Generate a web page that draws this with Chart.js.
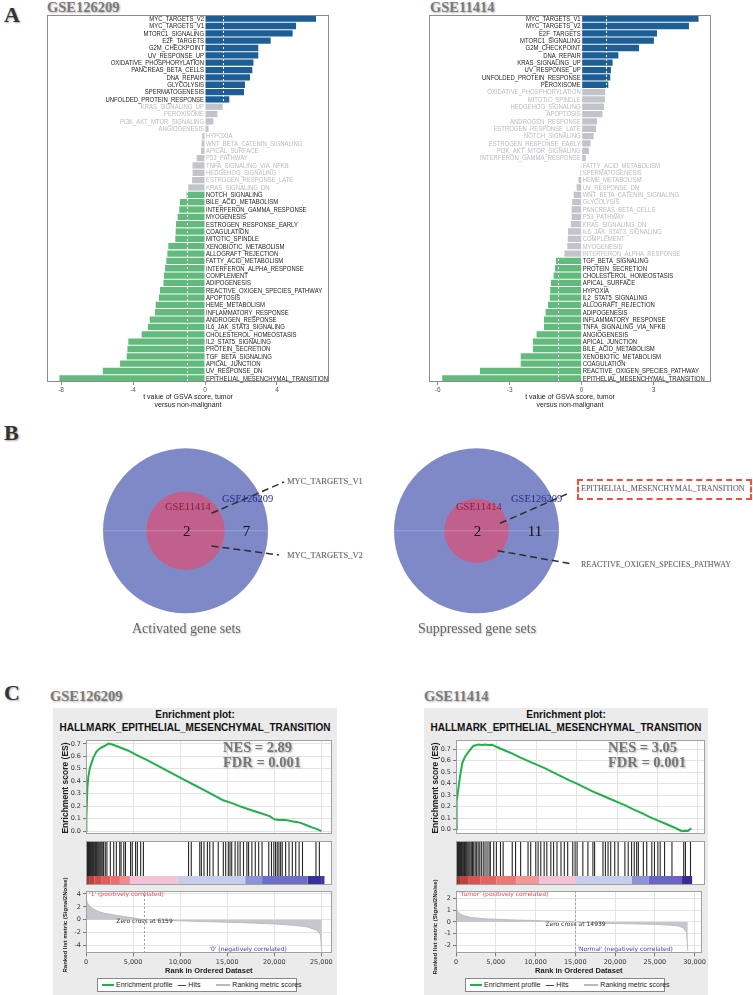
<!DOCTYPE html>
<html>
<head>
<meta charset="utf-8">
<title>GSVA and GSEA of hallmark gene sets</title>
<script src="https://cdn.jsdelivr.net/npm/chart.js@4.4.1/dist/chart.umd.min.js"></script>
<style>
  html, body { margin: 0; padding: 0; background: #fff; }
  #fig { position: relative; width: 753px; height: 995px; overflow: hidden; font-family: "Liberation Sans", Arial, sans-serif; }
  #fig canvas, .t { position: absolute; }
  .t { line-height: 1; white-space: nowrap; }
  .serif { font-family: "Liberation Serif", "DejaVu Serif", serif; }
  .letter { font-size: 22px; font-weight: bold; color: #333; text-shadow: 1px 1px 2px rgba(0,0,0,.35); }
  .gse { font-size: 14.5px; font-weight: bold; color: #7a7a7a; text-shadow: 1px 1px 2px rgba(0,0,0,.3); }
  .axt { font-size: 7px; color: #222; text-align: center; line-height: 7.6px; }
  .vset { font-size: 10.5px; }
  .vnum { font-size: 15px; color: #111; transform: translateX(-50%); }
  .vlab { font-size: 8.5px; color: #666; text-shadow: 0 0 1px rgba(0,0,0,.25); }
  .cap { font-size: 14px; color: #666; transform: translateX(-50%); text-shadow: 1px 1px 2px rgba(0,0,0,.25); }
  .gbox { position: absolute; background: #ebebeb; }
  .gt { font-size: 10px; font-weight: bold; color: #111; transform: translateX(-50%); }
  .nes { font-size: 14.5px; font-weight: bold; color: #777; text-shadow: 1px 1px 2px rgba(0,0,0,.3); }
  .rot { font-weight: bold; color: #222; transform: translate(-50%,-50%) rotate(-90deg); }
  .leg { position: absolute; background: #fff; border: 1px solid #888; height: 12px; font-size: 7px; color: #222; line-height: 12px; white-space: nowrap; }
  .leg i { display: inline-block; vertical-align: middle; width: 12px; height: 2px; margin: 0 2px 0 4px; }
  .ebox { position: absolute; border: 2px dashed #f0503c; }
</style>
</head>
<body>
<div id="fig">
  <!-- panel A -->
  <div class="t serif letter" style="left:4px;top:4px">A</div>
  <div class="t serif gse" style="left:47px;top:0px">GSE126209</div>
  <div class="t serif gse" style="left:430px;top:0px">GSE11414</div>
  <canvas id="barsLeft" width="300" height="385" style="left:40px;top:10px"></canvas>
  <canvas id="barsRight" width="300" height="385" style="left:420px;top:10px"></canvas>
  <div class="t axt" style="left:40px;top:393px;width:296px">t value of GSVA score, tumor<br>versus non-malignant</div>
  <div class="t axt" style="left:420px;top:393px;width:300px">t value of GSVA score, tumor<br>versus non-malignant</div>

  <!-- panel B -->
  <div class="t serif letter" style="left:4px;top:422px">B</div>
  <canvas id="vennActivated" width="285" height="190" style="left:95px;top:440px"></canvas>
  <canvas id="vennSuppressed" width="285" height="190" style="left:385px;top:440px"></canvas>
  <div class="t serif vset" id="vA2" style="left:165px;top:501.5px;color:#8a1c3c"></div>
  <div class="t serif vset" id="vA1" style="left:222px;top:494px;color:#2a2a8c"></div>
  <div class="t serif vnum" id="nA2" style="left:186.7px;top:524px"></div>
  <div class="t serif vnum" id="nA1" style="left:246.4px;top:524px"></div>
  <div class="t serif vlab" id="sA1" style="left:287px;top:476.5px"></div>
  <div class="t serif vlab" id="sA2" style="left:287px;top:550.8px"></div>
  <div class="t serif vset" id="vS2" style="left:456px;top:501.5px;color:#8a1c3c"></div>
  <div class="t serif vset" id="vS1" style="left:511px;top:494px;color:#2a2a8c"></div>
  <div class="t serif vnum" id="nS2" style="left:477.4px;top:524px"></div>
  <div class="t serif vnum" id="nS1" style="left:535px;top:524px"></div>
  <div class="ebox" style="left:577px;top:479px;width:171px;height:17px"></div>
  <div class="t serif vlab" id="sS1" style="left:581px;top:485.3px;font-size:8px"></div>
  <div class="t serif vlab" id="sS2" style="left:581px;top:560.7px;font-size:8px"></div>
  <div class="t serif cap" style="left:186.4px;top:622.3px">Activated gene sets</div>
  <div class="t serif cap" style="left:477px;top:622.3px">Suppressed gene sets</div>

  <!-- panel C -->
  <div class="t serif letter" style="left:4px;top:681.5px">C</div>
  <div class="t serif gse" style="left:50px;top:689px">GSE126209</div>
  <div class="t serif gse" style="left:424px;top:689px">GSE11414</div>

  <div class="gbox" style="left:53px;top:708px;width:284px;height:287px"></div>
  <div class="t gt" style="left:195px;top:710px">Enrichment plot:</div>
  <div class="t gt" style="left:195px;top:722.7px">HALLMARK_EPITHELIAL_MESENCHYMAL_TRANSITION</div>
  <canvas id="esLeft" width="284" height="106" style="left:53px;top:734px"></canvas>
  <canvas id="hitsLeft" width="246" height="44" style="left:86px;top:841px"></canvas>
  <canvas id="metricLeft" width="284" height="90" style="left:53px;top:885px"></canvas>
  <div class="t rot" style="left:65px;top:788px;font-size:8.5px">Enrichment score (ES)</div>
  <div class="t rot" style="left:65px;top:925px;font-size:6px">Ranked list metric (Signal2Noise)</div>
  <div class="t serif nes" style="left:223px;top:739.5px">NES = 2.89</div>
  <div class="t serif nes" style="left:223px;top:754.5px">FDR = 0.001</div>
  <div class="leg" style="left:97px;top:978px;width:198px"><i style="background:#1fb24a"></i>Enrichment profile <i style="background:#444;width:8px;height:1px"></i>Hits <i style="background:#b8b8c0;width:14px;height:2px;margin-left:14px"></i>Ranking metric scores</div>

  <div class="gbox" style="left:424px;top:708px;width:284px;height:287px"></div>
  <div class="t gt" style="left:566px;top:710px">Enrichment plot:</div>
  <div class="t gt" style="left:566px;top:722.7px">HALLMARK_EPITHELIAL_MESENCHYMAL_TRANSITION</div>
  <canvas id="esRight" width="284" height="106" style="left:424px;top:734px"></canvas>
  <canvas id="hitsRight" width="249" height="44" style="left:456px;top:841px"></canvas>
  <canvas id="metricRight" width="284" height="90" style="left:424px;top:885px"></canvas>
  <div class="t rot" style="left:435px;top:788px;font-size:8.5px">Enrichment score (ES)</div>
  <div class="t rot" style="left:435px;top:927px;font-size:6px">Ranked list metric (Signal2Noise)</div>
  <div class="t serif nes" style="left:608px;top:739.5px">NES = 3.05</div>
  <div class="t serif nes" style="left:608px;top:754.5px">FDR = 0.001</div>
  <div class="leg" style="left:465px;top:978px;width:198px"><i style="background:#1fb24a"></i>Enrichment profile <i style="background:#444;width:8px;height:1px"></i>Hits <i style="background:#b8b8c0;width:14px;height:2px;margin-left:14px"></i>Ranking metric scores</div>
</div>

<script>
// ---------- Panel A: t values of GSVA scores, tumor vs non-malignant ----------
const gse126209Sets = ['MYC_TARGETS_V2', 'MYC_TARGETS_V1', 'MTORC1_SIGNALING', 'E2F_TARGETS', 'G2M_CHECKPOINT',
  'UV_RESPONSE_UP', 'OXIDATIVE_PHOSPHORYLATION', 'PANCREAS_BETA_CELLS', 'DNA_REPAIR', 'GLYCOLYSIS',
  'SPERMATOGENESIS', 'UNFOLDED_PROTEIN_RESPONSE', 'KRAS_SIGNALING_UP', 'PEROXISOME', 'PI3K_AKT_MTOR_SIGNALING',
  'ANGIOGENESIS', 'HYPOXIA', 'WNT_BETA_CATENIN_SIGNALING', 'APICAL_SURFACE', 'P53_PATHWAY',
  'TNFA_SIGNALING_VIA_NFKB', 'HEDGEHOG_SIGNALING', 'ESTROGEN_RESPONSE_LATE', 'KRAS_SIGNALING_DN', 'NOTCH_SIGNALING',
  'BILE_ACID_METABOLISM', 'INTERFERON_GAMMA_RESPONSE', 'MYOGENESIS', 'ESTROGEN_RESPONSE_EARLY', 'COAGULATION',
  'MITOTIC_SPINDLE', 'XENOBIOTIC_METABOLISM', 'ALLOGRAFT_REJECTION', 'FATTY_ACID_METABOLISM', 'INTERFERON_ALPHA_RESPONSE',
  'COMPLEMENT', 'ADIPOGENESIS', 'REACTIVE_OXIGEN_SPECIES_PATHWAY', 'APOPTOSIS', 'HEME_METABOLISM',
  'INFLAMMATORY_RESPONSE', 'ANDROGEN_RESPONSE', 'IL6_JAK_STAT3_SIGNALING', 'CHOLESTEROL_HOMEOSTASIS', 'IL2_STAT5_SIGNALING',
  'PROTEIN_SECRETION', 'TGF_BETA_SIGNALING', 'APICAL_JUNCTION', 'UV_RESPONSE_DN', 'EPITHELIAL_MESENCHYMAL_TRANSITION'];
const gse126209T = [6.17, 5.06, 4.87, 3.65, 2.96, 2.96, 2.69, 2.63, 2.5, 2.22,
  2.17, 1.35, 0.98, 0.69, 0.46, 0.19, -0.15, -0.19, -0.22, -0.46,
  -0.69, -0.69, -0.72, -0.93, -1.02, -1.39, -1.43, -1.52, -1.61, -1.63,
  -1.65, -2.04, -2.09, -2.15, -2.22, -2.28, -2.31, -2.5, -2.56, -2.74,
  -2.78, -3.07, -3.17, -3.52, -4.26, -4.31, -4.35, -4.72, -5.68, -8.09];

const gse11414Sets = ['MYC_TARGETS_V1', 'MYC_TARGETS_V2', 'E2F_TARGETS', 'MTORC1_SIGNALING', 'G2M_CHECKPOINT',
  'DNA_REPAIR', 'KRAS_SIGNALING_UP', 'UV_RESPONSE_UP', 'UNFOLDED_PROTEIN_RESPONSE', 'PEROXISOME',
  'OXIDATIVE_PHOSPHORYLATION', 'MITOTIC_SPINDLE', 'HEDGEHOG_SIGNALING', 'APOPTOSIS', 'ANDROGEN_RESPONSE',
  'ESTROGEN_RESPONSE_LATE', 'NOTCH_SIGNALING', 'ESTROGEN_RESPONSE_EARLY', 'PI3K_AKT_MTOR_SIGNALING', 'INTERFERON_GAMMA_RESPONSE',
  'FATTY_ACID_METABOLISM', 'SPERMATOGENESIS', 'HEME_METABOLISM', 'UV_RESPONSE_DN', 'WNT_BETA_CATENIN_SIGNALING',
  'GLYCOLYSIS', 'PANCREAS_BETA_CELLS', 'P53_PATHWAY', 'KRAS_SIGNALING_DN', 'IL6_JAK_STAT3_SIGNALING',
  'COMPLEMENT', 'MYOGENESIS', 'INTERFERON_ALPHA_RESPONSE', 'TGF_BETA_SIGNALING', 'PROTEIN_SECRETION',
  'CHOLESTEROL_HOMEOSTASIS', 'APICAL_SURFACE', 'HYPOXIA', 'IL2_STAT5_SIGNALING', 'ALLOGRAFT_REJECTION',
  'ADIPOGENESIS', 'INFLAMMATORY_RESPONSE', 'TNFA_SIGNALING_VIA_NFKB', 'ANGIOGENESIS', 'APICAL_JUNCTION',
  'BILE_ACID_METABOLISM', 'XENOBIOTIC_METABOLISM', 'COAGULATION', 'REACTIVE_OXIGEN_SPECIES_PATHWAY', 'EPITHELIAL_MESENCHYMAL_TRANSITION'];
const gse11414T = [4.87, 4.47, 3.14, 3.01, 2.39, 1.53, 1.29, 1.22, 1.19, 1.11,
  0.98, 0.97, 0.93, 0.87, 0.64, 0.6, 0.5, 0.37, 0.3, 0.17,
  -0.03, -0.05, -0.13, -0.21, -0.33, -0.4, -0.42, -0.42, -0.45, -0.57,
  -0.58, -0.6, -0.72, -1.07, -1.11, -1.17, -1.28, -1.31, -1.33, -1.4,
  -1.5, -1.57, -1.57, -1.88, -2.03, -2.03, -2.54, -2.54, -4.24, -5.81];

const tTicks126209 = [-8, -4, 0, 4];
const tTicks11414 = [-6, -3, 0, 3];
const tCutoff = 1;

// ---------- Panel B: overlap of significant gene sets ----------
const vennSets = ['GSE126209', 'GSE11414'];
const activatedRadius = [1, 0.475];
const suppressedRadius = [1, 0.39];
const activatedCounts = [7, 2];
const suppressedCounts = [11, 2];
const activatedShared = ['MYC_TARGETS_V1', 'MYC_TARGETS_V2'];
const suppressedShared = ['EPITHELIAL_MESENCHYMAL_TRANSITION', 'REACTIVE_OXIGEN_SPECIES_PATHWAY'];

// ---------- Panel C: GSEA, HALLMARK_EPITHELIAL_MESENCHYMAL_TRANSITION ----------
const esRank126209 = [0, 40, 140, 250, 425, 600, 780, 1130, 1490, 2000, 2400, 2800, 3500, 4500, 5500, 6500, 7500, 8500,
  9500, 10500, 11500, 12500, 13500, 14500, 15500, 16500, 17500, 18500, 19500, 20000, 20500, 21000, 21500, 22000,
  22500, 23000, 23500, 24000, 24500, 25000];
const es126209 = [0, 0.1, 0.34, 0.44, 0.51, 0.55, 0.59, 0.64, 0.665, 0.685, 0.702, 0.695, 0.675, 0.645, 0.605, 0.57, 0.53, 0.49,
  0.45, 0.41, 0.37, 0.33, 0.29, 0.25, 0.225, 0.195, 0.17, 0.145, 0.12, 0.095, 0.09, 0.092, 0.085, 0.078,
  0.072, 0.06, 0.045, 0.03, 0.018, 0.0];
const hits126209 = [0, 30, 70, 110, 160, 210, 260, 320, 380, 440, 500, 560, 630, 700, 780, 860, 940, 1020, 1100, 1190,
  1280, 1370, 1470, 1570, 1680, 1790, 1870, 2045, 2220, 2580, 2940, 3220, 3580, 3720, 4010, 4190, 4730, 4910,
  5260, 5450, 5800, 6090, 10880, 11170, 12070, 12240, 12520, 12880, 13130, 13490, 14030, 14570, 14820, 15100,
  15280, 15460, 15820, 16110, 16350, 16710, 17070, 17250, 17600, 17960, 18320, 18680, 19390, 19680, 19930,
  20110, 20290, 20470, 20650, 20820, 21180, 21540, 21890, 22250, 22610, 22970, 24400, 24760];
const metricRank126209 = [0, 60, 200, 400, 700, 1000, 1500, 2000, 3000, 4000, 5000, 6159, 8000, 10000, 12000, 14000,
  16000, 18000, 20000, 22000, 23500, 24500, 24900, 25050];
const metric126209 = [3.4, 3.0, 2.5, 2.1, 1.75, 1.5, 1.2, 1.0, 0.75, 0.52, 0.3, 0, -0.05, -0.15, -0.25, -0.33,
  -0.42, -0.52, -0.65, -0.85, -1.1, -1.6, -2.3, -4.9];
const barEdges126209 = [0, 400, 900, 1600, 2600, 3600, 4660, 9730, 16890, 18680, 23510, 24940, 25300];
const barColors126209 = ['#a83232', '#bf3f3f', '#d04c4c', '#e05c5c', '#ea7070', '#f28c8c', '#f2c3d8', '#c9cdec',
  '#8c93d6', '#6e6ec6', '#3b2f9c', '#5a2c9e'];

const esRank11414 = [0, 40, 124, 290, 496, 786, 1117, 1530, 2150, 2770, 3200, 3600, 4000, 4500, 5000, 6000, 7000, 8000,
  9000, 10000, 11000, 12000, 13000, 14000, 15000, 16000, 17000, 18000, 19000, 20000, 21000, 22000, 23000,
  24000, 25000, 26000, 27000, 27600, 28000, 28400, 28800, 29000, 29200];
const es11414 = [0, 0.1, 0.247, 0.354, 0.46, 0.58, 0.633, 0.673, 0.727, 0.74, 0.735, 0.74, 0.735, 0.738, 0.72, 0.69, 0.66, 0.625,
  0.595, 0.565, 0.535, 0.5, 0.465, 0.43, 0.4, 0.365, 0.33, 0.3, 0.27, 0.24, 0.21, 0.175, 0.145,
  0.11, 0.08, 0.05, 0.02, 0.0, -0.015, -0.01, -0.012, 0.0, 0.01];
const hits11414 = [0, 40, 80, 130, 180, 230, 290, 350, 410, 480, 550, 620, 700, 780, 870, 960, 1060, 1160, 1270, 1380,
  1500, 1620, 1750, 1900, 2050, 2200, 2380, 2560, 2750, 2950, 3150, 3380, 3600, 3850, 4100, 4260, 4680, 5010,
  5520, 5850, 6980, 7390, 8020, 8940, 9270, 9900, 10190, 10520, 10940, 11270, 11770, 12110, 12530, 13030,
  13440, 13860, 14490, 14780, 15030, 15740, 16370, 16990, 17200, 18240, 18540, 18870, 19200, 19700, 20120,
  20960, 21370, 21790, 22120, 22420, 22630, 23250, 23670, 24300, 24630, 25050, 25340, 25880, 26800, 28260,
  28470, 29100];
const metricRank11414 = [0, 100, 300, 600, 1000, 2000, 3000, 4000, 6000, 8000, 10000, 12000, 14939, 17000, 20000,
  23000, 25000, 27000, 28000, 28600, 29000, 29150];
const metric11414 = [1.1, 0.95, 0.8, 0.65, 0.52, 0.38, 0.31, 0.26, 0.2, 0.16, 0.12, 0.08, 0, -0.07, -0.13,
  -0.17, -0.2, -0.27, -0.35, -0.5, -0.9, -2.45];
const barEdges11414 = [0, 600, 1500, 3000, 5000, 7500, 10310, 14900, 21790, 23880, 28050, 29300];
const barColors11414 = ['#a83232', '#c04040', '#d65454', '#e46464', '#ec7878', '#f29898', '#f2c3d8', '#c9cdec',
  '#8c93d6', '#6a64c2', '#3b2a98'];

const rankTicks126209 = [0, 5000, 10000, 15000, 20000, 25000];
const rankTicks11414 = [0, 5000, 10000, 15000, 20000, 25000, 30000];
const esTicks = [0, 0.1, 0.2, 0.3, 0.4, 0.5, 0.6, 0.7];
const metricTicks126209 = [-4, -2, 0, 2, 4];
const metricTicks11414 = [-2, -1, 0, 1, 2];

// ---------- helpers ----------
Chart.defaults.font.family = '"Liberation Sans", Arial, sans-serif';
const setTicks = list => scale => { scale.ticks = list.map(v => ({ value: v })); };
const baseOpts = { responsive: false, animation: false, events: [], devicePixelRatio: 1 };
const quiet = { legend: { display: false }, tooltip: { enabled: false } };
const pad = (t, r, b, l) => ({ autoPadding: false, padding: { top: t, right: r, bottom: b, left: l } });

// gene set names next to the zero line, dashed cut-off lines and the frame
const gsvaLabels = {
  id: 'gsvaLabels',
  afterDatasetsDraw(chart) {
    const { ctx, chartArea: a, scales: { x, y } } = chart;
    const vals = chart.data.datasets[0].data;
    const x0 = x.getPixelForValue(0);
    ctx.save();
    ctx.strokeStyle = 'rgba(255,255,255,0.95)';
    ctx.lineWidth = 1;
    ctx.setLineDash([2, 2]);
    [tCutoff, -tCutoff].forEach(t => {
      const px = Math.round(x.getPixelForValue(t)) + 0.5;
      ctx.beginPath(); ctx.moveTo(px, a.top); ctx.lineTo(px, a.bottom); ctx.stroke();
    });
    ctx.setLineDash([]);
    ctx.font = '6.6px "Liberation Sans", Arial, sans-serif';
    ctx.textBaseline = 'middle';
    chart.data.labels.forEach((lab, i) => {
      const v = vals[i];
      const py = y.getPixelForValue(i);
      ctx.fillStyle = Math.abs(v) > tCutoff ? '#1c1c1c' : '#b9b9c2';
      ctx.save();
      ctx.translate(v >= 0 ? x0 - 1 : x0 + 1, py + 0.5);
      ctx.scale(0.9, 1);
      ctx.textAlign = v >= 0 ? 'right' : 'left';
      ctx.fillText(lab, 0, 0);
      ctx.restore();
    });
    ctx.strokeStyle = '#8c8c8c';
    ctx.strokeRect(Math.round(a.left) + 0.5, Math.round(a.top) + 0.5, Math.round(a.width) - 1, Math.round(a.height) - 1);
    ctx.restore();
  }
};

function gsvaBars(id, labels, values, ticks, xMin, xMax, padL, padR) {
  return new Chart(document.getElementById(id), {
    type: 'bar',
    data: {
      labels: labels,
      datasets: [{
        data: values,
        backgroundColor: values.map(v => v > tCutoff ? '#1d5e97' : v < -tCutoff ? '#62ba7c' : '#c3c3cb'),
        barPercentage: 0.86,
        categoryPercentage: 1
      }]
    },
    options: Object.assign({}, baseOpts, {
      indexAxis: 'y',
      layout: pad(5, padR, 0, padL),
      plugins: quiet,
      scales: {
        y: { type: 'category', display: false },
        x: {
          type: 'linear', min: xMin, max: xMax, bounds: 'data',
          afterBuildTicks: setTicks(ticks),
          afterFit: s => { s.height = 13; },
          ticks: { font: { size: 6.5 }, color: '#555', padding: 1 },
          grid: { drawOnChartArea: false, tickLength: 3, tickColor: '#888' },
          border: { display: false }
        }
      }
    }),
    plugins: [gsvaLabels]
  });
}

gsvaBars('barsLeft', gse126209Sets, gse126209T, tTicks126209, -8.78, 6.89, 7, 11);
gsvaBars('barsRight', gse11414Sets, gse11414T, tTicks11414, -6.35, 5.39, 9.3, 9);

// ---------- Venn diagrams ----------
const vennPlugin = {
  id: 'venn',
  beforeDatasetsDraw(chart, args, o) {
    const { ctx, scales: { x, y } } = chart;
    ctx.save();
    o.radii.forEach((r, i) => {
      const cx = x.getPixelForValue(0), cy = y.getPixelForValue(0);
      const rx = Math.abs(x.getPixelForValue(r) - cx);
      const ry = Math.abs(y.getPixelForValue(r) - cy);
      ctx.beginPath();
      ctx.ellipse(cx, cy, rx, ry, 0, 0, Math.PI * 2);
      ctx.fillStyle = o.colors[i];
      ctx.fill();
    });
    ctx.restore();
  }
};

function venn(id, radii, leaders, xMin) {
  const ds = leaders.map(l => ({
    data: [{ x: l[0], y: l[1] }, { x: l[2], y: l[3] }],
    showLine: true, borderColor: '#2e2e2e', borderWidth: 1.5, borderDash: [7, 4], pointRadius: 0
  }));
  ds.unshift({
    data: [{ x: -radii[0], y: 0 }, { x: radii[0], y: 0 }],
    showLine: true, borderColor: 'rgba(255,255,255,0.22)', borderWidth: 1, pointRadius: 0
  });
  return new Chart(document.getElementById(id), {
    type: 'scatter',
    data: { datasets: ds },
    options: Object.assign({}, baseOpts, {
      layout: pad(0, 0, 0, 0),
      plugins: Object.assign({ venn: { radii: radii, colors: ['#7f89c7', '#c15f8d'] } }, quiet),
      scales: {
        x: { display: false, min: xMin, max: xMin + 285 / 82.5 },
        y: { display: false, min: -1.2024, max: 1.1006 }
      }
    }),
    plugins: [vennPlugin]
  });
}

venn('vennActivated', activatedRadius, [[0.315, 0.212, 1.194, 0.592], [0.315, -0.184, 1.133, -0.293]], -1.097);
venn('vennSuppressed', suppressedRadius, [[0.285, 0.091, 1.097, 0.446], [0.256, -0.241, 1.158, -0.402]], -1.109);

document.getElementById('vA1').textContent = vennSets[0];
document.getElementById('vA2').textContent = vennSets[1];
document.getElementById('vS1').textContent = vennSets[0];
document.getElementById('vS2').textContent = vennSets[1];
document.getElementById('nA1').textContent = activatedCounts[0];
document.getElementById('nA2').textContent = activatedCounts[1];
document.getElementById('nS1').textContent = suppressedCounts[0];
document.getElementById('nS2').textContent = suppressedCounts[1];
document.getElementById('sA1').textContent = activatedShared[0];
document.getElementById('sA2').textContent = activatedShared[1];
document.getElementById('sS1').textContent = suppressedShared[0];
document.getElementById('sS2').textContent = suppressedShared[1];

// ---------- GSEA plots ----------
const plotFrame = {
  id: 'plotFrame',
  beforeDraw(chart) {
    const { ctx, chartArea: a } = chart;
    ctx.save(); ctx.fillStyle = '#fff'; ctx.fillRect(a.left, a.top, a.width, a.height); ctx.restore();
  },
  afterDraw(chart) {
    const { ctx, chartArea: a } = chart;
    ctx.save(); ctx.strokeStyle = '#a0a0a0'; ctx.lineWidth = 1;
    ctx.strokeRect(Math.round(a.left) + 0.5, Math.round(a.top) + 0.5, Math.round(a.width) - 1, Math.round(a.height) - 1);
    ctx.restore();
  }
};

const gseaNotes = {
  id: 'gseaNotes',
  afterDatasetsDraw(chart, args, o) {
    const { ctx, chartArea: a, scales: { x, y } } = chart;
    ctx.save();
    const zx = Math.round(x.getPixelForValue(o.zero)) + 0.5;
    ctx.strokeStyle = '#9a9a9a'; ctx.lineWidth = 1; ctx.setLineDash([2, 2]);
    ctx.beginPath(); ctx.moveTo(zx, a.top); ctx.lineTo(zx, a.bottom); ctx.stroke();
    ctx.setLineDash([]);
    ctx.font = '6px "DejaVu Sans", sans-serif';
    ctx.textBaseline = 'middle';
    ctx.fillStyle = '#e5484d'; ctx.textAlign = 'left';
    ctx.fillText(o.pos, a.left + 3, a.top + 3.5);
    ctx.fillStyle = '#333'; ctx.textAlign = 'center';
    ctx.fillText('Zero cross at ' + o.zero, zx, y.getPixelForValue(0) + 2);
    ctx.fillStyle = '#3b3fb0'; ctx.textAlign = 'left';
    ctx.fillText(o.neg, x.getPixelForValue(o.negAt), a.bottom - 3.5);
    ctx.restore();
  }
};

const gridColor = '#e3e3e3';
const tickFont = { family: '"DejaVu Sans", sans-serif', size: 6.5 };

function gsea(p) {
  // running enrichment score
  new Chart(document.getElementById(p.ids[0]), {
    type: 'line',
    data: { datasets: [{ data: p.esRank.map((r, i) => ({ x: r, y: p.es[i] })), borderColor: '#1fb24a', borderWidth: 2, pointRadius: 0 }] },
    options: Object.assign({}, baseOpts, {
      layout: pad(2.7, p.padR, 0.7, 0),
      plugins: quiet,
      scales: {
        x: { type: 'linear', min: 0, max: p.xMax, bounds: 'data', afterBuildTicks: setTicks(p.rankTicks),
             afterFit: s => { s.height = 0; }, ticks: { display: false },
             grid: { color: gridColor, drawTicks: false }, border: { display: false } },
        y: { min: p.esMin, max: p.esMax, bounds: 'data', afterBuildTicks: setTicks(esTicks),
             afterFit: s => { s.width = p.axisW; },
             ticks: { font: tickFont, color: '#333', padding: 2, callback: v => v.toFixed(1) },
             grid: { color: gridColor, tickLength: 3, tickColor: '#777' }, border: { display: false } }
      }
    }),
    plugins: [plotFrame]
  });

  // hits and ranked-list colour bar
  const segs = p.barColors.map((c, i) => ({
    data: [{ x: p.barEdges[i], y: 4.5 }, { x: p.barEdges[i + 1], y: 4.5 }],
    showLine: true, borderColor: c, borderWidth: 9, pointRadius: 0
  }));
  segs.push({
    data: p.hits.map(r => ({ x: r, y: 26.5 })),
    pointStyle: 'line', pointRotation: 90, pointRadius: 17.5,
    pointBorderColor: '#262626', pointBorderWidth: 1.1, pointBackgroundColor: '#262626'
  });
  new Chart(document.getElementById(p.ids[1]), {
    type: 'scatter',
    data: { datasets: segs },
    options: Object.assign({}, baseOpts, {
      layout: pad(0, 0, 0, 0),
      plugins: quiet,
      scales: {
        x: { type: 'linear', display: false, min: 0, max: p.xMax },
        y: { type: 'linear', display: false, min: 0, max: 44 }
      }
    }),
    plugins: [plotFrame]
  });

  // ranked list metric
  new Chart(document.getElementById(p.ids[2]), {
    type: 'line',
    data: { datasets: [{
      data: p.mRank.map((r, i) => ({ x: r, y: p.metric[i] })),
      fill: 'origin', backgroundColor: '#c6c6cd', borderColor: '#b4b4bc', borderWidth: 0.8, pointRadius: 0
    }] },
    options: Object.assign({}, baseOpts, {
      layout: pad(1, p.padR, 0, 0),
      plugins: Object.assign({ gseaNotes: p.notes }, quiet),
      scales: {
        x: { type: 'linear', min: 0, max: p.xMax, bounds: 'data', afterBuildTicks: setTicks(p.rankTicks),
             afterFit: s => { s.height = 21.7; },
             ticks: { font: tickFont, color: '#333', padding: 2, maxRotation: 0, callback: v => v.toLocaleString('en-US') },
             grid: { color: gridColor, tickLength: 3, tickColor: '#777' }, border: { display: false },
             title: { display: true, text: 'Rank in Ordered Dataset', color: '#222', padding: 0,
                      font: { family: '"Liberation Sans", Arial, sans-serif', size: 7.5, weight: 'bold' } } },
        y: { min: p.mMin, max: p.mMax, bounds: 'data', afterBuildTicks: setTicks(p.mTicks),
             afterFit: s => { s.width = p.axisW; },
             ticks: { font: tickFont, color: '#333', padding: 2 },
             grid: { color: gridColor, tickLength: 3, tickColor: '#777' }, border: { display: false } }
      }
    }),
    plugins: [plotFrame, gseaNotes]
  });
}

gsea({
  ids: ['esLeft', 'hitsLeft', 'metricLeft'], axisW: 33, padR: 5.3, xMax: 26100,
  esRank: esRank126209, es: es126209, esMin: -0.024, esMax: 0.732,
  hits: hits126209, barEdges: barEdges126209, barColors: barColors126209,
  mRank: metricRank126209, metric: metric126209, mMin: -5.19, mMax: 4.48, mTicks: metricTicks126209,
  rankTicks: rankTicks126209,
  notes: { zero: 6159, pos: "'1' (positively correlated)", neg: "'0' (negatively correlated)", negAt: 13100 }
});

gsea({
  ids: ['esRight', 'hitsRight', 'metricRight'], axisW: 32, padR: 3, xMax: 30900,
  esRank: esRank11414, es: es11414, esMin: -0.04, esMax: 0.78,
  hits: hits11414, barEdges: barEdges11414, barColors: barColors11414,
  mRank: metricRank11414, metric: metric11414, mMin: -2.65, mMax: 2.63, mTicks: metricTicks11414,
  rankTicks: rankTicks11414,
  notes: { zero: 14939, pos: "'Tumor' (positively correlated)", neg: "'Normal' (negatively correlated)", negAt: 15270 }
});
</script>
</body>
</html>
